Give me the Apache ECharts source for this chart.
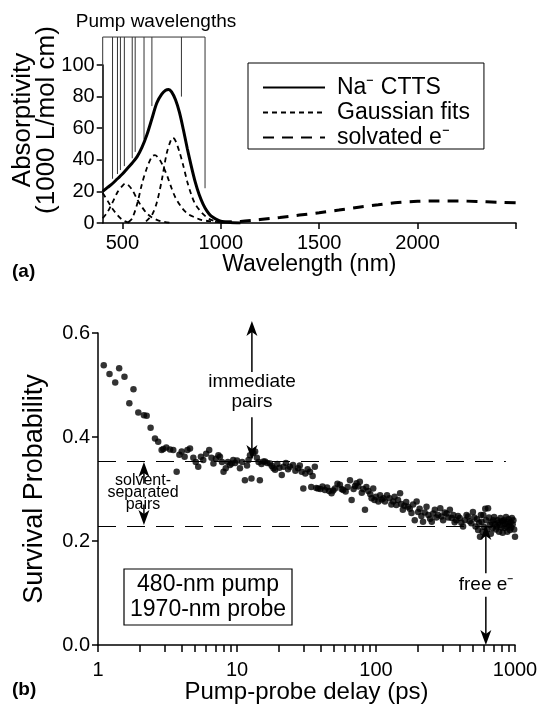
<!DOCTYPE html>
<html>
<head>
<meta charset="utf-8">
<script src="https://cdn.jsdelivr.net/npm/echarts@6/dist/echarts.min.js"></script>
<style>
html, body { margin: 0; padding: 0; background: #fff; }
#chart { width: 544px; height: 707px; }
</style>
</head>
<body>
<div id="chart"></div>
<script>
// panel (a): absorption spectra
var cttsWl  = [400, 425, 450, 475, 500, 525, 550, 575, 600, 625, 650, 675, 700, 720, 735, 750, 770, 790, 810, 830, 850, 870, 890, 910, 930, 950, 975, 1000, 1050, 1100];
var cttsVal = [20, 22.5, 25, 28, 31, 34.5, 38, 42, 48, 56, 66, 76, 81.5, 84, 84.5, 83, 78, 70, 59, 47, 36, 26, 18, 12, 7.5, 4.5, 2.5, 1.2, 0.3, 0];

var gauss1Wl  = [400, 425, 450, 475, 500, 525, 550];
var gauss1Val = [19, 14, 9, 5, 2, 0.5, 0];
var gauss2Wl  = [400, 425, 450, 475, 500, 515, 530, 550, 575, 600, 625, 650, 675, 700, 750];
var gauss2Val = [3, 7, 13, 19.5, 23.5, 25, 24, 21, 15, 10, 6, 3.5, 2, 1, 0];
var gauss3Wl  = [530, 550, 575, 600, 625, 650, 665, 690, 710, 730, 750, 770, 800, 830, 870, 900, 950, 1000];
var gauss3Val = [0.5, 3, 12, 25, 35, 42, 43, 40, 35, 29, 22, 16, 10, 6, 3.5, 2, 1, 0.3];
var gauss4Wl  = [620, 650, 675, 700, 725, 745, 757, 770, 790, 810, 830, 850, 870, 900, 925, 950, 1000];
var gauss4Val = [1, 5, 13, 27, 44, 52, 54, 52, 45, 36, 26, 18, 12, 7, 4, 2, 0.5];

var solvWl  = [1000, 1100, 1200, 1300, 1400, 1500, 1600, 1700, 1800, 1900, 2000, 2100, 2200, 2300, 2400, 2500];
var solvVal = [0.5, 1, 2.2, 3.5, 5, 6.5, 8.2, 10, 11.5, 13, 13.7, 14, 14, 13.6, 13.2, 12.8];

// pump wavelengths (nm) and where each marker line stops (absorptivity units)
var pumpWl  = [400, 450, 475, 490, 510, 550, 565, 610, 650, 800, 920];
var pumpEnd = [24, 28, 31, 33.5, 36, 41, 45, 53, 74, 80, 22];
var pumpTop = 117.7;

var wlTicks  = [500, 1000, 1500, 2000, 2500];
var wlLabels = [500, 1000, 1500, 2000];

// panel (b): survival probability vs pump-probe delay
var delayPs = [
  1.10, 1.21, 1.33, 1.42, 1.55, 1.68, 1.80, 1.95, 2.14, 2.24, 2.39, 2.57, 2.71, 2.87, 2.95, 3.10, 3.30, 3.48, 3.68, 3.85,
  4.00, 4.20, 4.40, 4.59, 4.85, 5.05, 5.26, 5.50, 5.72, 6.00, 6.31, 6.55, 6.77, 7.05, 7.35, 7.54, 7.80, 8.00, 8.30, 8.60,
  8.90, 9.15, 9.40, 9.70, 10.0, 10.5, 10.9, 11.4, 11.8, 12.1, 12.4, 12.7, 13.1, 13.5, 13.9, 14.3, 14.6, 15.0, 15.5, 15.9,
  16.5, 17.3, 17.8, 18.3, 18.8, 19.5, 20.2, 21.0, 21.6, 22.5, 23.3, 24.0, 25.3, 26.3, 27.5, 28.3, 29.2, 30.0, 31.0, 32.2,
  33.5, 34.2, 35.0, 36.3, 37.2, 38.3, 39.8, 41.2, 42.9, 44.5, 46.0, 47.9, 49.2, 50.7, 52.8, 55.0, 56.5, 58.0, 60.5, 62.5,
  65.0, 66.8, 69.0, 70.7, 72.4, 74.5, 76.5, 79.0, 81.0, 83.3, 85.3, 88.0, 91.0, 93.0, 95.5, 97.5, 100, 104, 107, 110,
  113, 116, 120, 125, 129, 133, 136, 140, 144, 149, 152, 156, 160, 165, 170, 175, 180, 185, 190, 196,
  201, 206, 212, 218, 224, 231, 238, 245, 252, 258, 265, 272, 280, 290, 296, 304, 312, 322, 331, 340,
  350, 360, 368, 378, 389, 400, 411, 423, 436, 448, 460, 472, 485, 498, 510, 520, 532, 543, 552, 560,
  568, 575, 584, 592, 600, 611, 620, 630, 640, 650, 660, 670, 680, 690, 697, 708, 718, 728, 738, 748,
  758, 768, 777, 786, 795, 805, 815, 822, 832, 842, 852, 862, 870, 880, 890, 900, 910, 920, 930, 940,
  950, 962, 974, 986, 1000
];
var survival = [
  0.538, 0.521, 0.505, 0.532, 0.516, 0.465, 0.492, 0.447, 0.442, 0.441, 0.418, 0.397, 0.391, 0.375, 0.377, 0.380, 0.376, 0.375, 0.333, 0.366,
  0.372, 0.362, 0.375, 0.378, 0.360, 0.352, 0.343, 0.362, 0.356, 0.368, 0.375, 0.360, 0.349, 0.358, 0.365, 0.362, 0.352, 0.333, 0.340, 0.352,
  0.346, 0.349, 0.356, 0.350, 0.355, 0.340, 0.352, 0.317, 0.345, 0.356, 0.365, 0.320, 0.369, 0.372, 0.360, 0.352, 0.317, 0.348, 0.353, 0.353,
  0.350, 0.349, 0.344, 0.340, 0.337, 0.348, 0.341, 0.327, 0.343, 0.350, 0.338, 0.343, 0.346, 0.335, 0.340, 0.345, 0.333, 0.301, 0.330, 0.338,
  0.333, 0.304, 0.325, 0.343, 0.302, 0.301, 0.300, 0.305, 0.298, 0.303, 0.296, 0.292, 0.297, 0.301, 0.310, 0.308, 0.300, 0.298, 0.295, 0.304,
  0.317, 0.279, 0.300, 0.306, 0.311, 0.305, 0.314, 0.293, 0.300, 0.260, 0.304, 0.296, 0.290, 0.282, 0.301, 0.279, 0.285, 0.276, 0.288, 0.280,
  0.282, 0.276, 0.288, 0.282, 0.270, 0.276, 0.285, 0.269, 0.279, 0.292, 0.271, 0.260, 0.268, 0.275, 0.266, 0.262, 0.254, 0.270, 0.240, 0.276,
  0.256, 0.262, 0.248, 0.237, 0.255, 0.266, 0.250, 0.243, 0.237, 0.253, 0.260, 0.245, 0.250, 0.263, 0.247, 0.240, 0.255, 0.253, 0.245, 0.260,
  0.244, 0.250, 0.236, 0.240, 0.248, 0.244, 0.235, 0.228, 0.240, 0.250, 0.247, 0.238, 0.234, 0.256, 0.245, 0.228, 0.242, 0.221, 0.235, 0.208,
  0.250, 0.237, 0.218, 0.250, 0.227, 0.262, 0.240, 0.222, 0.263, 0.245, 0.231, 0.214, 0.236, 0.225, 0.240, 0.246, 0.232, 0.222, 0.228, 0.240,
  0.235, 0.218, 0.231, 0.244, 0.226, 0.238, 0.216, 0.237, 0.240, 0.225, 0.233, 0.246, 0.228, 0.218, 0.236, 0.242, 0.230, 0.221, 0.236, 0.226,
  0.244, 0.232, 0.240, 0.222, 0.208
];

var delayTicks  = [1, 2, 3, 4, 5, 6, 7, 8, 9, 10, 20, 30, 40, 50, 60, 70, 80, 90, 100, 200, 300, 400, 500, 600, 700, 800, 900, 1000];
var delayLabels = [1, 10, 100, 1000];

// population levels and annotation arrows in panel (b): [delay, from, to]
var immediateLevel = 0.354;
var separatedLevel = 0.229;
var arrowSpecs = [
  [12.8, 0.525, 0.623],
  [12.8, 0.438, 0.356],
  [2.14, 0.31, 0.352],
  [2.14, 0.27, 0.231],
  [617, 0.138, 0.231],
  [617, 0.093, 0.0]
];

var FONT = '"Liberation Sans", Arial, Helvetica, sans-serif';

function zip(xs, ys) {
  var out = [];
  for (var i = 0; i < xs.length; i++) out.push([xs[i], ys[i]]);
  return out;
}

var pumpData = [];
for (var i = 0; i < pumpWl.length; i++) {
  pumpData.push([pumpWl[i], pumpEnd[i]]);
  pumpData.push([pumpWl[i], pumpTop]);
  pumpData.push([pumpWl[i], '-']);
}

function dashedCurve(xs, ys) {
  return {
    name: 'Gaussian fits', type: 'line', xAxisIndex: 0, yAxisIndex: 0,
    data: zip(xs, ys), smooth: 0.3, symbol: 'none', silent: true,
    lineStyle: { color: '#000', width: 1.8, type: [5, 4] }, itemStyle: { color: '#000' }
  };
}

function plain(v) { return String(v); }

var axisText = { color: '#000', fontFamily: FONT, fontSize: 20 };

var chart = echarts.init(document.getElementById('chart'), null, { renderer: 'canvas' });

var option = {
  animation: false,
  backgroundColor: '#fff',
  textStyle: { fontFamily: FONT, color: '#000' },
  grid: [
    { left: 102.7, right: 28, top: 65, height: 158, outerBoundsMode: 'none', containLabel: false },
    { left: 98, right: 29, top: 333, height: 312, outerBoundsMode: 'none', containLabel: false }
  ],
  legend: {
    data: ['Na⁻ CTTS', 'Gaussian fits', 'solvated e⁻'],
    orient: 'vertical', left: 248, top: 63,
    itemWidth: 62, itemHeight: 14, itemGap: 2,
    padding: [13, 14, 0, 14],
    borderColor: '#000', borderWidth: 1,
    itemStyle: { opacity: 0 },
    textStyle: { color: '#000', fontFamily: FONT, fontSize: 23, padding: [0, 0, 0, 7] }
  },
  xAxis: [
    {
      type: 'value', gridIndex: 0, min: 400, max: 2500,
      name: 'Wavelength (nm)', nameLocation: 'middle', nameGap: 30, nameMoveOverlap: false,
      nameTextStyle: { color: '#000', fontFamily: FONT, fontSize: 23 },
      axisLine: { lineStyle: { color: '#000', width: 1.5 } },
      axisTick: { inside: false, length: 6, customValues: wlTicks, lineStyle: { color: '#000', width: 1.5 } },
      axisLabel: Object.assign({ margin: 10, customValues: wlLabels, formatter: plain }, axisText),
      splitLine: { show: false }
    },
    {
      type: 'log', logBase: 10, gridIndex: 1, min: 1, max: 1000,
      name: 'Pump-probe delay (ps)', nameLocation: 'middle', nameGap: 35, nameMoveOverlap: false,
      nameTextStyle: { color: '#000', fontFamily: FONT, fontSize: 24 },
      axisLine: { lineStyle: { color: '#000', width: 1.5 } },
      axisTick: { length: 7, customValues: delayTicks, lineStyle: { color: '#000', width: 1.5 } },
      axisLabel: Object.assign({ margin: 15, customValues: delayLabels, formatter: plain }, axisText),
      minorTick: { show: false },
      splitLine: { show: false }
    }
  ],
  yAxis: [
    {
      type: 'value', gridIndex: 0, min: 0, max: 100, interval: 20,
      name: 'Absorptivity\n(1000 L/mol cm)', nameLocation: 'middle', nameGap: 44, nameRotate: 90, nameMoveOverlap: false,
      nameTextStyle: { color: '#000', fontFamily: FONT, fontSize: 26, lineHeight: 24, padding: [0, 0, 0, 48] },
      axisLine: { show: true, lineStyle: { color: '#000', width: 1.5 } },
      axisTick: { show: true, length: 6, lineStyle: { color: '#000', width: 1.5 } },
      axisLabel: Object.assign({ margin: 8 }, axisText),
      splitLine: { show: false }
    },
    {
      type: 'value', gridIndex: 1, min: 0, max: 0.6, interval: 0.2,
      name: 'Survival Probability', nameLocation: 'middle', nameGap: 50, nameRotate: 90, nameMoveOverlap: false,
      nameTextStyle: { color: '#000', fontFamily: FONT, fontSize: 27 },
      axisLine: { show: true, lineStyle: { color: '#000', width: 1.5 } },
      axisTick: { show: true, length: 6, lineStyle: { color: '#000', width: 1.5 } },
      axisLabel: Object.assign({ margin: 8, formatter: function (v) { return v.toFixed(1); } }, axisText),
      splitLine: { show: false }
    }
  ],
  series: [
    {
      type: 'line', xAxisIndex: 0, yAxisIndex: 0, data: pumpData, clip: false,
      symbol: 'none', silent: true, connectNulls: false,
      lineStyle: { color: '#333', width: 1 }
    },
    {
      type: 'line', xAxisIndex: 0, yAxisIndex: 0, clip: false,
      data: [[pumpWl[0], pumpTop], [pumpWl[pumpWl.length - 1], pumpTop]],
      symbol: 'none', silent: true, lineStyle: { color: '#333', width: 1 }
    },
    dashedCurve(gauss1Wl, gauss1Val),
    dashedCurve(gauss2Wl, gauss2Val),
    dashedCurve(gauss3Wl, gauss3Val),
    dashedCurve(gauss4Wl, gauss4Val),
    {
      name: 'solvated e⁻', type: 'line', xAxisIndex: 0, yAxisIndex: 0,
      data: zip(solvWl, solvVal), smooth: 0.3, symbol: 'none', silent: true,
      lineStyle: { color: '#000', width: 3, type: [11, 8] }, itemStyle: { color: '#000' }
    },
    {
      name: 'Na⁻ CTTS', type: 'line', xAxisIndex: 0, yAxisIndex: 0,
      data: zip(cttsWl, cttsVal), smooth: 0.3, symbol: 'none', silent: true,
      lineStyle: { color: '#000', width: 3 }, itemStyle: { color: '#000' }
    },
    {
      type: 'scatter', xAxisIndex: 1, yAxisIndex: 1,
      data: zip(delayPs, survival), symbol: 'circle', symbolSize: 6.5,
      itemStyle: { color: '#000' }, silent: true,
      markLine: {
        silent: true, animation: false, label: { show: false },
        symbol: 'none',
        lineStyle: { color: '#000', width: 1, type: [18, 11] },
        data: [
          [{ coord: [1, immediateLevel] }, { coord: [860, immediateLevel] }],
          [{ coord: [1, separatedLevel] }, { coord: [860, separatedLevel] }]
        ]
      }
    }
  ]
};

chart.setOption(option);

// annotation arrows, placed through the panel (b) axes
var graphics = [];
arrowSpecs.forEach(function (a) {
  var p0 = chart.convertToPixel({ gridIndex: 1 }, [a[0], a[1]]);
  var p1 = chart.convertToPixel({ gridIndex: 1 }, [a[0], a[2]]);
  var dir = p1[1] > p0[1] ? 1 : -1;
  var x = p1[0], tip = p1[1];
  graphics.push({
    type: 'line', shape: { x1: x, y1: p0[1], x2: x, y2: tip - dir * 10 },
    style: { stroke: '#000', lineWidth: 1.5 }, silent: true
  });
  graphics.push({
    type: 'polygon',
    shape: { points: [[x, tip], [x - 5.5, tip - dir * 15], [x, tip - dir * 11], [x + 5.5, tip - dir * 15]] },
    style: { fill: '#000' }, silent: true
  });
});

graphics.push(
  { type: 'text', style: { text: 'Pump wavelengths', x: 156, y: 22, align: 'center', verticalAlign: 'middle', font: '19px ' + FONT, fill: '#000' } },
  { type: 'text', style: { text: '(a)', x: 12, y: 272, verticalAlign: 'middle', font: 'bold 19px ' + FONT, fill: '#000' } },
  { type: 'text', style: { text: '(b)', x: 12, y: 690, verticalAlign: 'middle', font: 'bold 19px ' + FONT, fill: '#000' } },
  { type: 'text', style: { text: 'immediate\npairs', x: 252, y: 392, align: 'center', verticalAlign: 'middle', font: '19px ' + FONT, lineHeight: 20, fill: '#000' } },
  { type: 'text', style: { text: 'solvent-\nseparated\npairs', x: 143, y: 493, align: 'center', verticalAlign: 'middle', font: '16px ' + FONT, lineHeight: 12, fill: '#000' } },
  { type: 'text', style: { text: 'free e⁻', x: 486, y: 585, align: 'center', verticalAlign: 'middle', font: '19px ' + FONT, fill: '#000' } },
  { type: 'rect', shape: { x: 124, y: 569, width: 168, height: 56 }, style: { fill: 'none', stroke: '#000', lineWidth: 1.2 } },
  { type: 'text', style: { text: '480-nm pump\n1970-nm probe', x: 208, y: 597, align: 'center', verticalAlign: 'middle', font: '23px ' + FONT, lineHeight: 25, fill: '#000' } }
);

chart.setOption({ graphic: graphics });
</script>
</body>
</html>
